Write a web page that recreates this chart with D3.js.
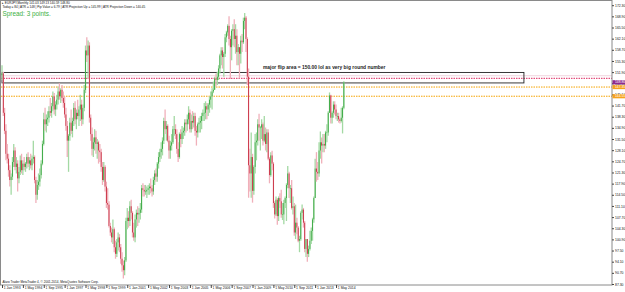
<!DOCTYPE html>
<html>
<head>
<meta charset="utf-8">
<style>
body { margin: 0; background: #fff; }
svg { display: block; }
</style>
</head>
<body>
<svg width="625" height="292" font-family="Liberation Sans, Arial, sans-serif"></svg>
<script src="https://cdn.jsdelivr.net/npm/d3@7"></script>
<script>

// EURJPY monthly, Jan 1993 .. Nov 2014 (open of each bar = previous close)
var firstOpen = 151.0;

var closes = [
  151.5,139.5,134.0,127.0,125.5,122.0,119.0,120.0,124.5,128.0,123.0,124.0,
  119.5,121.5,125.0,122.0,124.0,123.0,124.0,126.0,124.0,125.0,123.5,125.5,
  126.0,119.0,114.5,117.5,118.5,120.5,124.0,130.0,137.5,136.0,137.5,138.0,
  140.0,139.5,141.5,144.5,140.5,142.0,143.5,146.0,144.5,146.5,144.0,142.5,
  139.0,135.5,131.0,132.5,136.5,134.0,137.0,141.0,137.5,139.5,138.5,140.5,
  142.0,137.5,141.0,146.5,158.5,157.0,160.0,138.0,133.0,128.5,130.5,132.0,
  130.0,130.5,128.0,127.5,123.0,119.0,123.0,117.0,112.0,111.5,105.0,103.0,
  101.5,104.0,98.5,96.5,100.0,101.5,98.5,95.0,93.0,91.5,94.5,106.5,
  107.5,106.5,111.0,109.0,103.0,101.5,107.0,109.0,108.5,109.0,110.0,116.5,
  116.0,115.5,115.5,116.0,116.5,117.0,116.5,115.5,119.0,121.0,120.0,124.0,
  126.0,127.5,128.5,131.0,137.0,134.5,135.5,131.0,128.0,129.5,130.5,134.5,
  134.5,133.0,128.5,126.0,133.0,131.5,133.5,134.0,136.5,136.0,137.5,139.5,
  134.5,137.0,136.5,138.5,134.0,133.5,136.0,136.5,137.0,138.5,139.5,139.5,
  141.5,140.5,142.0,143.5,144.5,146.0,146.5,150.0,149.5,150.5,153.0,157.0,
  158.5,156.5,157.5,162.5,164.0,166.0,162.0,159.5,164.5,165.0,162.0,163.0,
  158.0,159.5,157.5,161.5,161.0,167.5,168.5,162.0,150.5,123.5,121.0,126.0,
  115.7,123.0,130.5,131.0,136.0,135.0,135.0,136.0,131.0,133.0,130.0,133.5,
  125.5,120.5,126.5,124.0,112.0,108.5,113.0,108.0,113.5,112.5,108.5,108.5,
  112.0,113.5,117.5,121.0,116.5,116.5,110.5,111.0,103.0,106.0,104.5,100.5,
  101.0,109.0,110.0,106.0,98.0,101.0,96.5,98.0,100.5,103.5,107.0,113.5,
  122.5,121.5,121.0,128.0,130.5,129.5,130.0,129.5,133.5,133.5,139.5,144.8,
  138.0,139.5,142.0,140.5,138.5,138.5,137.5,137.0,138.0,141.03,148.80
];

var highs = [
  154.0,152.0,141.0,136.0,130.0,127.0,123.5,121.0,126.0,130.0,129.0,126.0,
  125.0,123.0,126.5,127.0,125.0,126.0,124.5,127.0,127.5,126.0,127.0,126.5,
  131.0,126.5,120.0,119.0,121.0,122.5,125.0,131.0,139.5,141.0,139.0,140.0,
  141.5,144.0,142.5,146.0,145.5,143.0,145.0,147.5,148.5,147.0,148.0,146.0,
  144.5,141.0,137.0,133.0,138.0,140.5,138.0,142.5,143.0,140.5,143.5,141.5,
  145.0,143.5,142.0,148.0,160.0,162.5,161.5,161.0,139.0,135.0,132.0,134.5,
  134.0,131.5,131.0,130.0,128.5,124.5,124.5,123.5,118.5,116.5,112.5,106.0,
  104.5,107.0,104.5,100.5,101.0,103.0,102.5,99.5,97.0,94.5,95.5,107.5,
  110.5,109.5,112.5,113.0,109.5,106.0,108.5,110.0,111.0,110.5,112.0,117.5,
  118.0,117.5,117.5,117.0,117.5,118.0,119.5,117.5,120.0,122.0,122.5,124.5,
  127.5,128.5,130.5,132.0,138.0,140.5,137.0,136.0,132.5,131.0,133.0,135.5,
  138.5,136.0,134.5,130.5,133.5,134.5,135.5,135.0,137.5,137.5,139.0,141.5,
  140.5,139.0,140.0,139.5,139.5,135.5,136.5,138.0,138.5,139.5,140.5,142.5,
  143.0,142.5,142.5,144.5,146.0,147.0,149.0,150.5,151.5,152.0,154.0,157.5,
  159.5,159.5,158.0,163.5,164.5,166.5,168.9,163.0,165.0,166.5,168.0,166.5,
  165.0,160.5,159.5,163.0,163.5,168.5,169.96,169.0,162.5,153.0,128.5,133.5,
  127.0,123.5,133.0,133.5,137.5,139.2,135.5,137.5,136.5,138.5,135.0,134.5,
  134.5,126.0,127.5,127.9,124.5,112.5,114.0,113.5,114.0,115.0,116.0,112.0,
  113.0,114.0,118.0,123.3,121.5,117.5,119.0,114.0,112.0,111.5,107.5,105.0,
  102.0,109.5,111.5,110.5,106.5,101.0,101.0,99.0,103.5,104.5,107.5,114.0,
  125.5,127.5,124.5,130.5,133.8,132.0,133.0,133.0,134.0,136.0,140.0,145.7,
  145.0,140.0,143.0,143.0,142.0,139.5,139.5,138.0,141.0,141.5,149.13
];

var lows = [
  149.5,138.5,133.0,125.0,124.0,120.0,117.0,114.5,119.0,123.0,122.0,121.0,
  115.5,118.0,120.5,121.0,120.5,122.0,121.5,122.5,123.0,122.0,122.5,122.0,
  124.0,118.0,112.0,113.0,116.0,117.0,119.5,123.5,129.5,134.0,133.5,135.5,
  136.5,138.5,138.0,140.0,139.0,138.5,140.5,142.0,143.5,142.5,143.0,141.0,
  138.0,134.0,126.0,121.5,131.0,133.0,132.0,135.5,136.0,134.5,137.5,135.5,
  137.0,135.5,136.0,140.0,145.5,155.0,150.0,136.5,131.0,126.5,126.0,128.0,
  127.0,125.5,124.0,124.5,121.5,117.5,118.5,115.5,110.5,110.0,104.5,102.0,
  100.0,99.5,97.0,95.0,95.5,97.5,97.0,93.5,91.0,89.0,90.0,94.0,
  104.0,104.5,105.0,107.0,101.5,100.5,100.0,104.5,105.0,106.0,107.0,109.0,
  114.0,114.0,114.5,113.5,114.5,114.5,115.0,114.0,114.5,117.5,118.5,118.5,
  122.5,124.5,125.5,126.5,130.0,133.0,131.0,130.5,125.5,125.5,128.0,130.0,
  132.5,131.5,127.0,124.5,125.5,129.0,130.0,131.5,132.5,133.5,134.0,136.0,
  133.5,133.5,134.5,135.0,132.5,129.5,132.0,133.5,133.5,134.5,137.0,137.0,
  137.5,137.5,138.5,139.5,141.0,140.5,145.5,146.5,147.5,148.0,149.5,151.5,
  154.0,153.0,150.5,156.5,161.0,163.0,160.0,149.8,155.5,160.0,159.5,157.5,
  154.0,154.0,150.0,154.5,158.0,160.5,165.0,158.0,148.0,113.6,115.5,113.6,
  112.1,114.5,121.0,125.0,129.5,131.0,128.0,131.5,129.5,130.5,128.0,127.5,
  125.0,118.0,120.0,122.0,110.5,107.3,108.0,105.4,106.5,110.5,107.5,106.8,
  105.5,110.5,106.5,116.5,113.5,112.0,110.0,108.5,102.0,101.0,102.5,100.0,
  97.0,100.5,107.0,104.5,97.0,95.5,94.1,95.5,97.5,99.5,100.5,106.0,
  113.5,118.5,119.0,120.0,125.5,124.0,127.5,127.5,128.5,130.5,132.5,139.5,
  136.2,136.2,138.0,139.0,137.5,137.0,136.5,136.2,136.5,133.2,140.59
];

var firstYear = 1993;

var priceTicks = [87.30, 90.70, 94.10, 97.50, 100.90, 104.30, 107.70, 111.10, 114.50,
  117.90, 121.30, 124.70, 128.10, 131.50, 134.90, 138.30, 141.70, 145.10, 148.50,
  151.90, 155.30, 158.70, 162.10, 165.50, 168.90, 172.30];

var dateLabels = ["1 Jan 1993", "1 May 1994", "1 Sep 1995", "1 Jan 1997", "1 May 1998",
  "1 Sep 1999", "1 Jan 2001", "1 May 2002", "1 Sep 2003", "1 Jan 2005", "1 May 2006",
  "1 Sep 2007", "1 Jan 2009", "1 May 2010", "1 Sep 2011", "1 Jan 2013", "1 May 2014"];

var flipLevel = 150.00;
var zoneTop = 151.80, zoneBottom = 148.60;
var zoneEnd = "1 May 2026";
var projUp = 147.35, projDown = 144.55;
var noteText = "major flip area = 150.00 lol as very big round number";
var noteAt = ["1 Sep 2009", 152.9];

var header1 = "EURJPY,Monthly  141.03 149.13 140.59 148.80";
var header2 = "Today = 84  |  ATR = 148  |  Pip Value = 6.79  |  ATR Projection Up = 145.99  |  ATR Projection Down = 140.45";
var spreadText = "Spread: 3 points.";
var footerText = "Alaro Trader MetaTrader 4, \u00a9 2001-2014, MetaQuotes Software Corp.";

var svg = d3.select("svg");
var plotLeft = 1, plotRight = 612, plotTop = 1, plotBottom = 285;

var parse = d3.timeParse("%d %b %Y");
function monthIndex(s) {
  var d = parse(s);
  return (d.getFullYear() - firstYear) * 12 + d.getMonth();
}

var x = d3.scaleLinear().domain([0, 467.5]).range([2, 612]);
var y = d3.scaleLinear().domain([87.30, 172.30]).range([284, 5.2]);

var bars = closes.map(function(c, i) {
  var o = i === 0 ? firstOpen : closes[i - 1];
  return {i: i, o: o, h: Math.max(highs[i], o, c), l: Math.min(lows[i], o, c), c: c};
});

svg.append("rect").attr("width", 625).attr("height", 292).attr("fill", "#fff");

svg.append("defs").append("clipPath").attr("id", "plotclip")
  .append("rect").attr("x", plotLeft).attr("y", plotTop)
  .attr("width", plotRight - plotLeft).attr("height", plotBottom - plotTop);

var plot = svg.append("g").attr("clip-path", "url(#plotclip)");

// faint line and dotted levels
plot.append("line")
  .attr("x1", plotLeft).attr("x2", plotRight)
  .attr("y1", y(flipLevel + 0.8)).attr("y2", y(flipLevel + 0.8))
  .attr("stroke", "#f1d4de").attr("stroke-width", 1);

plot.append("line")
  .attr("x1", plotLeft).attr("x2", plotRight)
  .attr("y1", y(flipLevel)).attr("y2", y(flipLevel))
  .attr("stroke", "#e2507e").attr("stroke-width", 1.1).attr("stroke-dasharray", "1.5,1");

[projUp, projDown].forEach(function(v) {
  plot.append("line")
    .attr("x1", plotLeft).attr("x2", plotRight)
    .attr("y1", y(v)).attr("y2", y(v))
    .attr("stroke", "#f5a300").attr("stroke-width", 1).attr("stroke-dasharray", "1.5,1");
});

// rectangle
plot.append("rect")
  .attr("x", x(0)).attr("y", y(zoneTop))
  .attr("width", x(monthIndex(zoneEnd)) - x(0))
  .attr("height", y(zoneBottom) - y(zoneTop))
  .attr("fill", "none").attr("stroke", "#222").attr("stroke-width", 0.9);

plot.append("text")
  .attr("x", x(monthIndex(noteAt[0]))).attr("y", y(noteAt[1]))
  .attr("font-size", 4.9).attr("font-weight", "bold").attr("fill", "#1a1a1a")
  .text(noteText);

// candles
var candle = plot.selectAll(".candle").data(bars).enter().append("g").attr("class", "candle");

candle.append("line")
  .attr("x1", function(d) { return x(d.i); })
  .attr("x2", function(d) { return x(d.i); })
  .attr("y1", function(d) { return y(d.h); })
  .attr("y2", function(d) { return y(d.l); })
  .attr("stroke", function(d) { return d.c >= d.o ? "#a3d9a3" : "#f0b0ba"; })
  .attr("stroke-width", 1.3);

candle.append("rect")
  .attr("x", function(d) { return x(d.i) - 0.4; })
  .attr("width", 0.8)
  .attr("y", function(d) { return y(Math.max(d.o, d.c)); })
  .attr("height", function(d) { return Math.max(0.6, Math.abs(y(d.o) - y(d.c))); })
  .attr("fill", function(d) { return d.c >= d.o ? "#2ca236" : "#c52235"; });

// frame
svg.append("rect")
  .attr("x", 0.5).attr("y", 0.5)
  .attr("width", plotRight - 0.5).attr("height", plotBottom - 0.5)
  .attr("fill", "none").attr("stroke", "#8a8a8a").attr("stroke-width", 1);

// right price axis
var yAxis = svg.append("g")
  .attr("transform", "translate(" + plotRight + ",0)")
  .call(d3.axisRight(y).tickValues(priceTicks).tickSize(2).tickPadding(1)
    .tickFormat(d3.format(".2f")));
yAxis.select(".domain").remove();
yAxis.selectAll("line").attr("stroke", "#444");
yAxis.selectAll("text").attr("font-size", 3.4).attr("fill", "#111")
  .attr("font-family", "Liberation Sans, Arial, sans-serif");

// bottom time axis
var xAxis = svg.append("g")
  .attr("transform", "translate(0," + plotBottom + ")")
  .call(d3.axisBottom(x).tickValues(dateLabels.map(monthIndex)).tickSize(3)
    .tickFormat(function(d, i) { return dateLabels[i]; }));
xAxis.select(".domain").remove();
xAxis.selectAll("line").attr("stroke", "#444");
xAxis.selectAll("text").attr("font-size", 3.4).attr("fill", "#111")
  .attr("text-anchor", "start").attr("x", 1.3).attr("y", 1.2)
  .attr("font-family", "Liberation Sans, Arial, sans-serif");

// level labels on the price axis
function levelLabel(v, fill) {
  var g = svg.append("g").attr("transform", "translate(" + (plotRight + 0.5) + "," + y(v) + ")");
  g.append("rect").attr("x", 0).attr("y", -2.1).attr("width", 12.5).attr("height", 4.2).attr("fill", fill);
  g.append("text").attr("x", 2.5).attr("y", 1.2).attr("font-size", 3.3).attr("fill", "#fff")
    .text(d3.format(".2f")(v));
}
levelLabel(projDown, "#f5a31f");
levelLabel(projUp, "#f5a31f");
levelLabel(closes[closes.length - 1], "#8e2a8c");

// header texts
svg.append("text").attr("x", 2).attr("y", 4.2).attr("font-size", 3.1).attr("fill", "#111")
  .text("\u25b8 " + header1);
svg.append("text").attr("x", 2.5).attr("y", 8.3).attr("font-size", 3.1).attr("fill", "#111")
  .text(header2);
svg.append("text").attr("x", 2.5).attr("y", 16).attr("font-size", 6.4).attr("fill", "#3cb043")
  .text(spreadText);
svg.append("text").attr("x", 2.5).attr("y", 283).attr("font-size", 3.1).attr("fill", "#111")
  .text(footerText);

</script>
</body>
</html>
